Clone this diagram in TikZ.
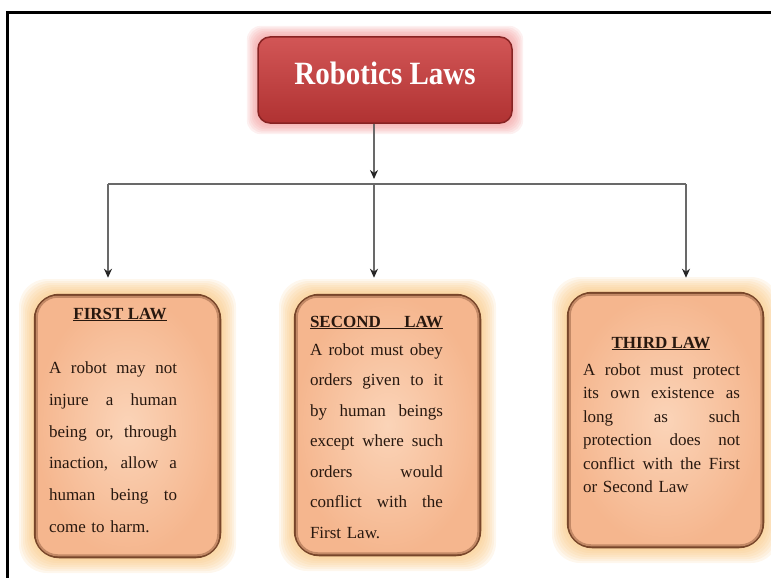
\documentclass[tikz,border=0pt]{standalone}
\usepackage{fontspec}
\setmainfont{Liberation Serif}
\usepackage{xcolor}
\usetikzlibrary{arrows.meta, positioning, calc}

\definecolor{glowor}{RGB}{248,190,110}
\definecolor{glowred}{RGB}{240,140,140}
\definecolor{peachin}{RGB}{251,212,184}
\definecolor{peachout}{RGB}{245,182,142}
\definecolor{boxbrown}{RGB}{120,70,42}
\definecolor{titletop}{RGB}{210,86,86}
\definecolor{titlebot}{RGB}{176,50,50}
\definecolor{titleedge}{RGB}{135,35,35}
\definecolor{linegray}{RGB}{105,105,105}
\definecolor{txt}{RGB}{40,24,15}

% one stretched line of a justified text block
\newlength{\lawwd}
\newcommand{\jline}[1]{\makebox[\lawwd][s]{\spaceskip=0pt\xspaceskip=0pt #1}\\}

\begin{document}
\begin{tikzpicture}[x=1pt, y=-1pt]
    \tikzstyle{lawbox} = [rectangle, rounded corners=24pt, draw=boxbrown, line width=2.5pt, inner color=peachin, outer color=peachout]
    \tikzstyle{title} = [rectangle, rounded corners=12pt, draw=titleedge, line width=1.5pt, top color=titletop, bottom color=titlebot, text=white, font=\fontsize{29}{32}\selectfont\bfseries]
    \tikzstyle{head} = [anchor=base, inner sep=0pt, text=txt, font=\fontsize{17}{20}\selectfont\bfseries]
    \tikzstyle{lawtext} = [anchor=north, inner sep=0pt, align=left, text=txt]
    \tikzstyle{arrow} = [line width=1.6pt, draw=linegray, -{Stealth[length=9pt, width=8pt, color=black!85]}]

    \useasboundingbox (0,0) rectangle (771,578);
    \draw[line width=3pt] (7,578) -- (7,13) -- (771,13);

    % soft glow behind the boxes
    \foreach \g in {1,...,7}
        \fill[glowred, opacity=0.13, rounded corners=14pt] (258-1.6*\g,37-1.6*\g) rectangle (512+1.6*\g,123+1.6*\g);
    \foreach \xa/\ya/\xb/\yb in {35/295/220/557, 295/295/480/555, 568/293/763/547}
        \foreach \g in {1,...,8}
            \fill[glowor, opacity=0.12, rounded corners=28pt] (\xa-2*\g,\ya-2*\g) rectangle (\xb+2*\g,\yb+2*\g);

    \node[title, minimum width=254pt, minimum height=86pt, text depth=13pt] (root) at (385,80) {\scalebox{1}[1.12]{Robotics Laws}};

    \node[lawbox, minimum width=185pt, minimum height=262pt] (law1) at (127.5,426) {};
    \node[lawbox, minimum width=185pt, minimum height=260pt] (law2) at (387.5,425) {};
    \node[lawbox, minimum width=195pt, minimum height=254pt] (law3) at (665.5,420) {};
    \foreach \n in {law1, law2, law3}
        \draw[boxbrown!40!peachout, line width=2pt, rounded corners=21pt] ($(\n.south west)+(3pt,3pt)$) rectangle ($(\n.north east)+(-3pt,-3pt)$);

    \node[head] (law1head) at (120,319) {\underline{FIRST LAW}};
    \node[head] (law2head) at (376.5,327) {\underline{\makebox[133pt][s]{SECOND LAW}}};
    \node[head] (law3head) at (661,348) {\underline{THIRD LAW}};

    \setlength{\lawwd}{128pt}
    \node[lawtext, text width=128pt, font=\fontsize{17}{31.8}\selectfont] (law1text) at (113,361.5) {%
        \jline{A robot may not}\jline{injure a human}\jline{being or, through}%
        \jline{inaction, allow a}\jline{human being to}come to harm.};
    \setlength{\lawwd}{133pt}
    \node[lawtext, text width=133pt, font=\fontsize{17}{30.5}\selectfont] (law2text) at (376.5,343.5) {%
        \jline{A robot must obey}\jline{orders given to it}\jline{by human beings}%
        \jline{except where such}\jline{orders would}\jline{conflict with the}First Law.};
    \setlength{\lawwd}{157pt}
    \node[lawtext, text width=157pt, font=\fontsize{17}{23.4}\selectfont] (law3text) at (661.5,363.5) {%
        \jline{A robot must protect}\jline{its own existence as}\jline{long as such}%
        \jline{protection does not}\jline{conflict with the First}or Second Law};

    \coordinate (bar) at (374,184);
    \coordinate (barl) at (108,184);
    \coordinate (barr) at (686,184);

    \draw[arrow, shorten >=5pt] (root.south -| bar) -- (bar);
    \draw[line width=1.6pt, draw=linegray] (barl) -- (barr);
    \draw[arrow, shorten >=16pt] (barl) -- (barl |- law1.north);
    \draw[arrow, shorten >=16pt] (bar) -- (bar |- law2.north);
    \draw[arrow, shorten >=14pt] (barr) -- (barr |- law3.north);
\end{tikzpicture}
\end{document}
